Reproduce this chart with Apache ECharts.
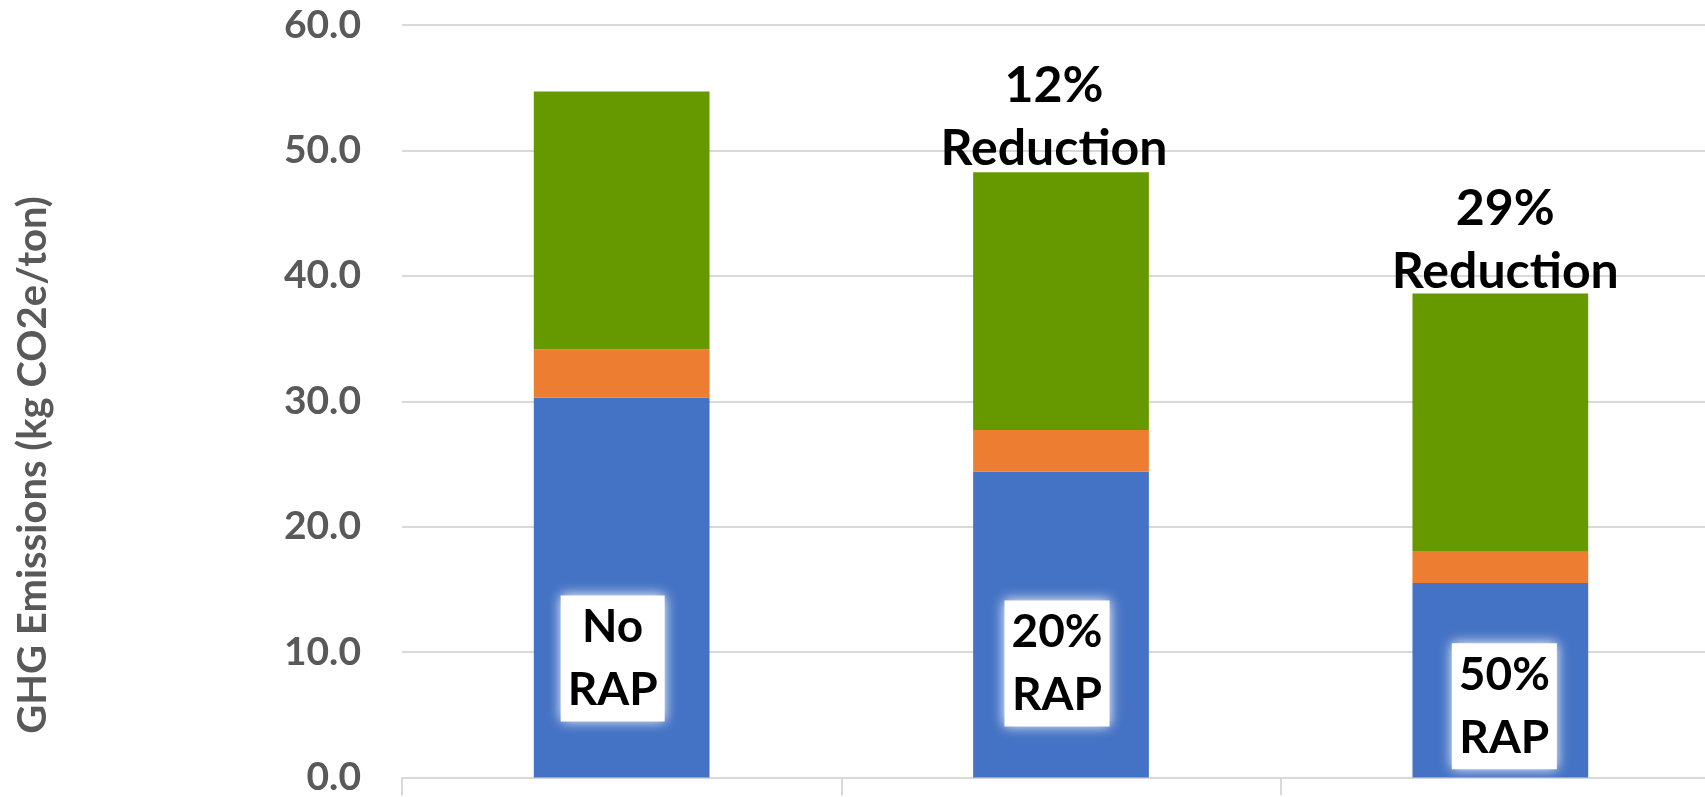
<!DOCTYPE html>
<html>
<head>
<meta charset="utf-8">
<script src="https://cdn.jsdelivr.net/npm/echarts@6/dist/echarts.min.js"></script>
<style>
html,body{margin:0;padding:0;background:#fff;overflow:hidden;}
#chart{width:1720px;height:797px;}
</style>
</head>
<body>
<div id="chart"></div>
<script>
// ---- data ----
const categories = ['No RAP', '20% RAP', '50% RAP'];
const seriesNames = ['Series A', 'Series B', 'Series C'];
const blueValues = [30.3, 24.4, 15.5];
const orangeValues = [3.85, 3.3, 2.55];
const greenValues = [20.55, 20.55, 20.55];
const reductionLabels = ['', '12%\nReduction', '29%\nReduction'];
const yAxisTitle = 'GHG Emissions (kg CO2e/ton)';
const yMin = 0, yMax = 60, yInterval = 10;

// ---- styles / label placement (kept separate from data) ----
const FONT = 'Lato';
const innerOffsets = [[-9, 71], [-4, 39], [4, 26]];
const topOffsets = [[0, 0], [-7, 8], [5, 10]];

const blueData = blueValues.map((v, i) => ({
  value: v,
  label: { offset: innerOffsets[i] }
}));
const greenData = greenValues.map((v, i) => ({
  value: v,
  label: reductionLabels[i]
    ? { show: true, formatter: reductionLabels[i], offset: topOffsets[i] }
    : { show: false }
}));

const chart = echarts.init(document.getElementById('chart'), null, { renderer: 'canvas' });
chart.setOption({
  animation: false,
  backgroundColor: '#ffffff',
  grid: { left: 402, top: 25, bottom: 16.5, right: 0 },
  xAxis: {
    type: 'category',
    data: categories,
    axisLine: { show: true, lineStyle: { color: '#D9D9D9', width: 2 } },
    axisTick: { show: true, length: 18, lineStyle: { color: '#D9D9D9', width: 2 } },
    axisLabel: { show: false }
  },
  yAxis: {
    type: 'value',
    min: yMin, max: yMax, interval: yInterval,
    axisLine: { show: false },
    axisTick: { show: false },
    splitLine: { lineStyle: { color: '#D9D9D9', width: 2 } },
    axisLabel: {
      formatter: v => v.toFixed(1),
      color: '#595959',
      fontFamily: FONT, fontWeight: 'bold', fontSize: 39,
      margin: 41
    }
  },
  graphic: [{
    type: 'text',
    x: 33, y: 465,
    rotation: Math.PI / 2,
    style: {
      text: yAxisTitle,
      fill: '#595959',
      font: 'bold 40px ' + FONT,
      textAlign: 'center',
      textVerticalAlign: 'middle'
    }
  }],
  series: [
    {
      name: seriesNames[0], type: 'bar', stack: 'total',
      barCategoryGap: '60%',
      itemStyle: { color: '#4472C4' },
      label: {
        show: true,
        position: 'inside',
        formatter: p => p.name.replace(' ', '\n'),
        color: '#000',
        fontFamily: FONT, fontWeight: 'bold', fontSize: 46,
        lineHeight: 63,
        backgroundColor: '#ffffff',
        padding: [0, 7, 0, 7],
        shadowColor: 'rgba(255,255,255,1)',
        shadowBlur: 12
      },
      data: blueData
    },
    {
      name: seriesNames[1], type: 'bar', stack: 'total',
      itemStyle: { color: '#ED7D31' },
      data: orangeValues
    },
    {
      name: seriesNames[2], type: 'bar', stack: 'total',
      itemStyle: { color: '#669900' },
      label: {
        show: false,
        position: 'top',
        distance: 0,
        color: '#000',
        fontFamily: FONT, fontWeight: 'bold', fontSize: 50,
        lineHeight: 63
      },
      data: greenData
    }
  ]
});
</script>
</body>
</html>
